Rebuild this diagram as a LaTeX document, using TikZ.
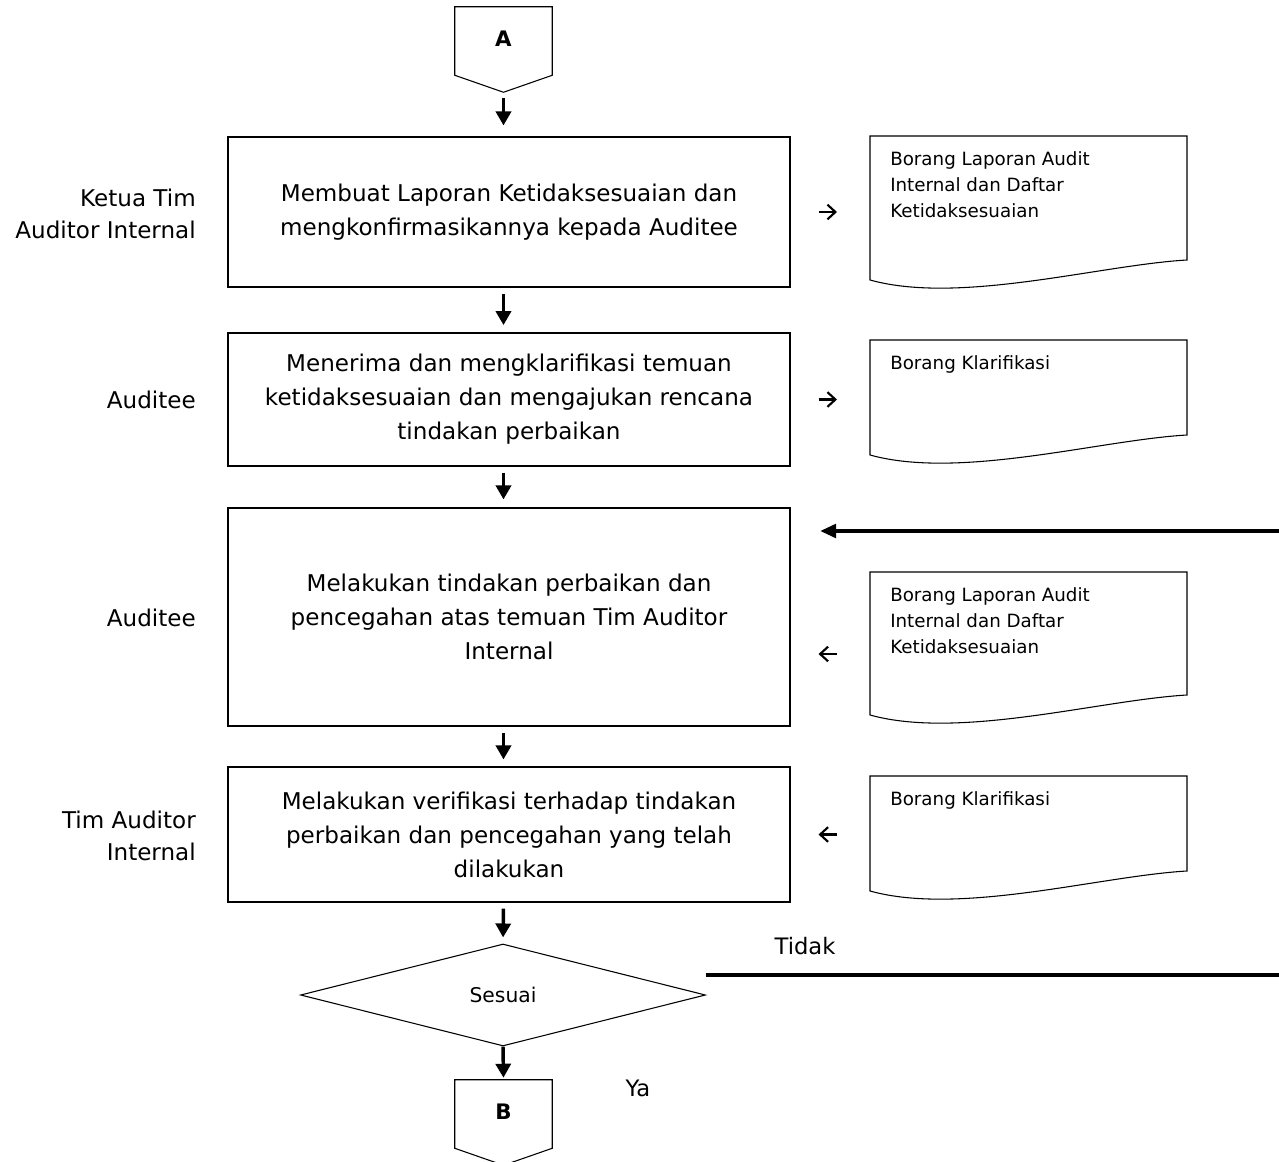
\documentclass[tikz,border=0pt]{standalone}
\usepackage{fontspec}
\setmainfont{DejaVu Sans}
\usetikzlibrary{arrows.meta, positioning, shapes.geometric}

\begin{document}
\begin{tikzpicture}[
  x=0.75pt, y=-0.75pt,
  box/.style={draw, line width=0.8pt, minimum width=421.5pt, align=center,
    font=\fontsize{17.3}{25.5}\selectfont},
  who/.style={anchor=east, align=right, inner sep=0pt,
    font=\fontsize{17.3}{24}\selectfont},
  lbl/.style={inner sep=0pt, font=\fontsize{17}{20}\selectfont},
  doc/.style={anchor=north west, align=left, inner xsep=15pt, inner ysep=11.25pt,
    font=\fontsize{13.7}{19.5}\selectfont},
  conn/.style={minimum width=72.75pt, minimum height=51pt, inner sep=0pt,
    font=\fontsize{16}{18}\selectfont\bfseries},
  dec/.style={diamond, draw, line width=0.8pt, minimum width=303.75pt,
    minimum height=76.5pt, inner sep=0pt, font=\fontsize{15.2}{18}\selectfont},
  e/.style={-{Triangle[length=10.5pt, width=11.25pt]}, line width=2.6pt,
    shorten <=4.5pt, shorten >=5.5pt},
  ret/.style={-{Triangle[length=12pt, width=10pt]}, line width=3pt},
  note/.style={-{Straight Barb[length=6pt, width=11pt]}, line width=1.6pt,
    shorten <=21pt, shorten >=24.75pt},
  pics/docshape/.style={code={
    \draw[line width=0.8pt] (0,0) -- (317,0) -- (317,#1)
      .. controls (230,#1+5) and (90,#1+45) .. (0,#1+20) -- cycle;}}]
  \useasboundingbox (0,0) rectangle (1279,1162);

  % off-page connectors
  \node[conn] (A) at (503.5,41) {\raisebox{3pt}{A}};
  \draw[line width=0.8pt] (A.north west) -- (A.north east) -- (A.south east)
    -- ([yshift=-12.75pt]A.south) -- (A.south west) -- cycle;
  \node[conn] (B) at (503.5,1114) {\raisebox{3pt}{B}};
  \draw[line width=0.8pt] (B.north west) -- (B.north east) -- (B.south east)
    -- ([yshift=-12.75pt]B.south) -- (B.south west) -- cycle;

  % process steps
  \node[box, minimum height=112.5pt] (b1) at (509,212)
    {Membuat Laporan Ketidaksesuaian dan\\mengkonfirmasikannya kepada Auditee};
  \node[box, minimum height=99.75pt] (b2) at (509,399.5)
    {Menerima dan mengklarifikasi temuan\\ketidaksesuaian dan mengajukan rencana\\tindakan perbaikan};
  \node[box, minimum height=163.5pt] (b3) at (509,617)
    {Melakukan tindakan perbaikan dan\\pencegahan atas temuan Tim Auditor\\Internal};
  \node[box, minimum height=101.25pt] (b4) at (509,834.5)
    {Melakukan verifikasi terhadap tindakan\\perbaikan dan pencegahan yang telah\\dilakukan};
  \node[dec] (cek) at (503,995) {Sesuai};

  % who does it
  \node[who] (w1) at (196,214) {Ketua Tim\\Auditor Internal};
  \node[who] (w2) at (196,400) {Auditee};
  \node[who] (w3) at (196,618) {Auditee};
  \node[who] (w4) at (196,836) {Tim Auditor\\Internal};

  % documents
  \node[doc] (d1) at (870,136) {Borang Laporan Audit\\Internal dan Daftar\\Ketidaksesuaian};
  \pic at (d1.north west) {docshape=124};
  \node[doc] (d2) at (870,340) {Borang Klarifikasi};
  \pic at (d2.north west) {docshape=95};
  \node[doc] (d3) at (870,572) {Borang Laporan Audit\\Internal dan Daftar\\Ketidaksesuaian};
  \pic at (d3.north west) {docshape=123};
  \node[doc] (d4) at (870,776) {Borang Klarifikasi};
  \pic at (d4.north west) {docshape=95};

  % flow
  \draw[e, shorten <=17.25pt, shorten >=8.25pt] (A.south) -- (A.south |- b1.north);
  \draw[e] (A.south |- b1.south) -- (A.south |- b2.north);
  \draw[e, shorten >=6pt] (A.south |- b2.south) -- (A.south |- b3.north);
  \draw[e, shorten >=5.25pt] (A.south |- b3.south) -- (A.south |- b4.north);
  \draw[e, shorten >=4.5pt] (A.south |- b4.south) -- (cek.north);
  \draw[e, shorten <=0pt, shorten >=1.5pt] (cek.south) -- (B.north);
  \node[lbl] (yes) at (638,1088) {Ya};

  % not ok: back to correction
  \coordinate (t1) at ([yshift=15pt]cek.east);
  \coordinate (t2) at (1279,975);
  \draw[line width=3pt] (t1) -- (t2);
  \node[lbl] (no) at (805,946) {Tidak};
  \coordinate (r1) at (1279,531);
  \coordinate (r2) at (820,531);
  \draw[ret] (r1) -- (r2);

  % documents in and out
  \draw[note] (b1.east) -- (b1.east -| d1.west);
  \draw[note] (b2.east) -- (b2.east -| d2.west);
  \coordinate (n3) at ([yshift=-27.75pt]b3.east);
  \draw[note, shorten <=24.75pt, shorten >=21pt] (n3 -| d3.west) -- (n3);
  \draw[note, shorten <=24.75pt, shorten >=21pt] (b4.east -| d4.west) -- (b4.east);
\end{tikzpicture}
\end{document}
